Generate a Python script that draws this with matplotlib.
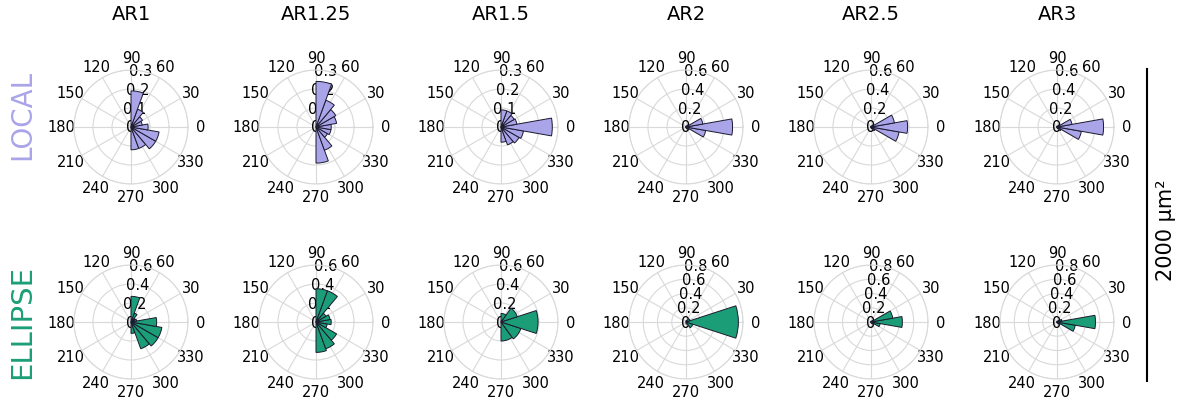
import numpy as np
import matplotlib.pyplot as plt

# column / row names
aspect_ratios = ['AR1', 'AR1.25', 'AR1.5', 'AR2', 'AR2.5', 'AR3']
row_names = ['LOCAL', 'ELLIPSE']

# normalised counts per orientation bin, bins run from -90 to 90 deg
local_ar1 = [0.12, 0.12, 0.15, 0.15, 0.09, 0.06, 0.07, 0.10, 0.19]
local_ar125 = [0.19, 0.13, 0.07, 0.08, 0.08, 0.11, 0.12, 0.15, 0.24]
local_ar15 = [0.08, 0.10, 0.11, 0.12, 0.27, 0.085, 0.08, 0.09, 0.09]
local_ar2 = [0.01, 0.02, 0.04, 0.21, 0.49, 0.18, 0.03, 0.01, 0.01]
local_ar25 = [0.01, 0.02, 0.05, 0.30, 0.385, 0.25, 0.03, 0.01, 0.01]
local_ar3 = [0.01, 0.02, 0.05, 0.26, 0.49, 0.16, 0.03, 0.01, 0.01]

ellipse_ar1 = [0.12, 0.30, 0.33, 0.33, 0.27, 0.06, 0.05, 0.10, 0.27]
ellipse_ar125 = [0.32, 0.30, 0.25, 0.12, 0.16, 0.15, 0.12, 0.35, 0.35]
ellipse_ar15 = [0.20, 0.22, 0.39, 0.18, 0.09]
ellipse_ar2 = [0.03, 0.10, 0.735, 0.06, 0.02]
ellipse_ar25 = [0.01, 0.02, 0.05, 0.13, 0.44, 0.31, 0.03, 0.01, 0.01]
ellipse_ar3 = [0.01, 0.02, 0.05, 0.26, 0.54, 0.07, 0.03, 0.01, 0.01]

local_data = [local_ar1, local_ar125, local_ar15, local_ar2, local_ar25, local_ar3]
ellipse_data = [ellipse_ar1, ellipse_ar125, ellipse_ar15, ellipse_ar2, ellipse_ar25, ellipse_ar3]

local_rmax = [0.3, 0.3, 0.3, 0.6, 0.6, 0.6]
ellipse_rmax = [0.6, 0.6, 0.6, 0.8, 0.8, 0.8]

scale_label = '2000 μm²'

W, H = 1177, 402
fig = plt.figure(figsize=(W / 100, H / 100), dpi=100)

local_color = '#aaa4e8'
ellipse_color = '#1b9e77'

col_x = [131, 316, 501, 686, 871, 1057]
row_y = [128, 323]
R = 57


def draw_rose(cx, cy, values, rmax, color):
    ax = fig.add_axes([(cx - R) / W, 1 - (cy + R) / H, 2 * R / W, 2 * R / H],
                      projection='polar')
    n = len(values)
    edges = np.linspace(-np.pi / 2, np.pi / 2, n + 1)
    centers = (edges[:-1] + edges[1:]) / 2
    ax.bar(centers, values, width=np.pi / n, bottom=0, color=color,
           edgecolor='#1a1a2e', linewidth=0.7, zorder=3)
    ax.set_ylim(0, rmax)
    step = 0.1 if rmax < 0.5 else 0.2
    ticks = np.round(np.arange(0, rmax + 1e-9, step), 2)
    ax.set_yticks(ticks)
    ax.set_yticklabels(['%g' % t for t in ticks], fontsize=10.5, zorder=5)
    ax.set_rlabel_position(80)
    for lab in ax.get_yticklabels():
        lab.set_horizontalalignment('center')
        lab.set_verticalalignment('center')
    ax.set_thetagrids(range(0, 360, 30), [str(a) for a in range(0, 360, 30)],
                      fontsize=10.5)
    ax.tick_params(axis='x', pad=-1.5)
    ax.grid(True, color='#d9d9d9', linewidth=0.8)
    ax.spines['polar'].set_color('#d9d9d9')
    ax.spines['polar'].set_linewidth(0.8)
    ax.set_axisbelow(True)
    return ax


for i in range(6):
    draw_rose(col_x[i], row_y[0], local_data[i], local_rmax[i], local_color)
    draw_rose(col_x[i], row_y[1], ellipse_data[i], ellipse_rmax[i], ellipse_color)
    fig.text(col_x[i] / W, 1 - 15 / H, aspect_ratios[i], ha='center', va='center',
             fontsize=14)

fig.text(22 / W, 1 - 115 / H, row_names[0], rotation=90, ha='center', va='center',
         fontsize=20, color=local_color)
fig.text(22 / W, 1 - 322 / H, row_names[1], rotation=90, ha='center', va='center',
         fontsize=21, color=ellipse_color)

# scale bar
fig.add_artist(plt.Line2D([1147 / W, 1147 / W], [1 - 70 / H, 1 - 382 / H],
                          color='black', linewidth=1.5))
fig.text(1166 / W, 1 - 230 / H, scale_label, rotation=90, ha='center', va='center',
         fontsize=15)

fig.savefig('out.png', dpi=100)
